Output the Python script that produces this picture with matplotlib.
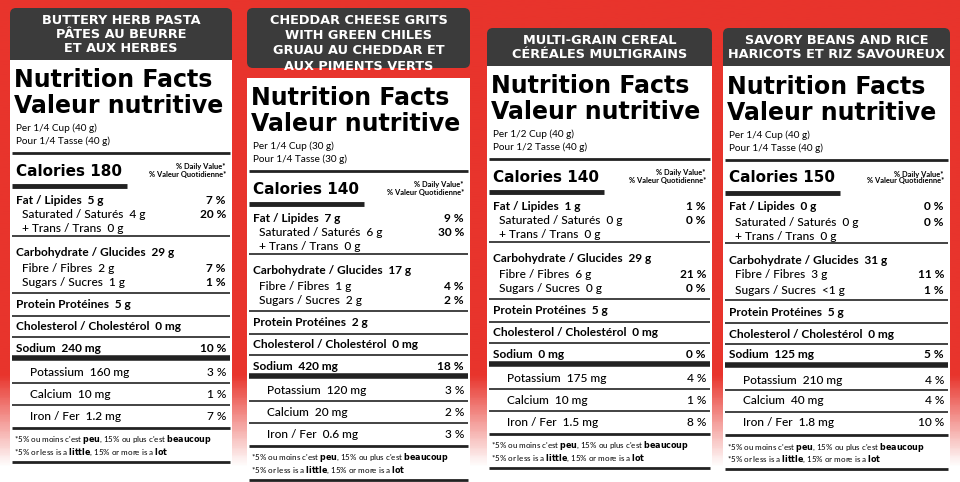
import numpy as np
import matplotlib.pyplot as plt
from matplotlib.patches import FancyBboxPatch, Rectangle
from matplotlib.colors import LinearSegmentedColormap

# product data
titles = [
    ["BUTTERY HERB PASTA", "PÂTES AU BEURRE", "ET AUX HERBES"],
    ["CHEDDAR CHEESE GRITS", "WITH GREEN CHILES", "GRUAU AU CHEDDAR ET", "AUX PIMENTS VERTS"],
    ["MULTI-GRAIN CEREAL", "CÉRÉALES MULTIGRAINS"],
    ["SAVORY BEANS AND RICE", "HARICOTS ET RIZ SAVOUREUX"],
]
serving_en = ["Per 1/4 Cup (40 g)", "Per 1/4 Cup (30 g)", "Per 1/2 Cup (40 g)", "Per 1/4 Cup (40 g)"]
serving_fr = ["Pour 1/4 Tasse (40 g)", "Pour 1/4 Tasse (30 g)", "Pour 1/2 Tasse (40 g)", "Pour 1/4 Tasse (40 g)"]
calories = [180, 140, 140, 150]
fat = ["5 g", "7 g", "1 g", "0 g"]
fat_dv = ["7 %", "9 %", "1 %", "0 %"]
sat = ["4 g", "6 g", "0 g", "0 g"]
sat_dv = ["20 %", "30 %", "0 %", "0 %"]
trans = ["0 g", "0 g", "0 g", "0 g"]
carb = ["29 g", "17 g", "29 g", "31 g"]
fibre = ["2 g", "1 g", "6 g", "3 g"]
fibre_dv = ["7 %", "4 %", "21 %", "11 %"]
sugars = ["1 g", "2 g", "0 g", "<1 g"]
sugars_dv = ["1 %", "2 %", "0 %", "1 %"]
protein = ["5 g", "2 g", "5 g", "5 g"]
cholesterol = ["0 mg", "0 mg", "0 mg", "0 mg"]
sodium = ["240 mg", "420 mg", "0 mg", "125 mg"]
sodium_dv = ["10 %", "18 %", "0 %", "5 %"]
potassium = ["160 mg", "120 mg", "175 mg", "210 mg"]
potassium_dv = ["3 %", "3 %", "4 %", "4 %"]
calcium = ["10 mg", "20 mg", "10 mg", "40 mg"]
calcium_dv = ["1 %", "2 %", "1 %", "4 %"]
iron = ["1.2 mg", "0.6 mg", "1.5 mg", "1.8 mg"]
iron_dv = ["7 %", "3 %", "8 %", "10 %"]

# layout
card_x = [(10, 232), (247, 470), (487, 712), (723, 950)]
head_top = [8, 8, 28, 28]
head_bot = [60, 78, 66, 66]
shift = [0, 18, 6, 7]

W, H = 960, 482
fig = plt.figure(figsize=(9.6, 4.82), dpi=100)
ax = fig.add_axes([0, 0, 1, 1])
ax.set_xlim(0, W)
ax.set_ylim(H, 0)
ax.axis("off")

cmap = LinearSegmentedColormap.from_list("bg", [(0, "#e8342c"), (0.78, "#e8342c"), (0.97, "#ffffff"), (1, "#ffffff")])
ax.imshow(np.linspace(0, 1, 200)[:, None], extent=[0, W, H, 0], cmap=cmap, aspect="auto", zorder=0)

FT = "DejaVu Sans"
FB = "Lato"
dark = "#3b3b3b"

for i in range(4):
    x0, x1 = card_x[i]
    cw = x1 - x0
    d = shift[i]
    ax.add_patch(FancyBboxPatch((x0, head_top[i]), cw, 60, boxstyle="round,pad=0,rounding_size=6",
                                fc=dark, ec="none", zorder=1))
    ax.add_patch(Rectangle((x0, head_bot[i]), cw, H, fc="white", ec="none", zorder=2))
    n = len(titles[i])
    hy = np.linspace(head_top[i] + 12, head_bot[i] - 12, n)
    for t, yy in zip(titles[i], hy):
        ax.text((x0 + x1) / 2, yy, t, color="white", ha="center", va="center",
                fontsize=9.3, fontweight="bold", family=FT, zorder=3)

    L = x0 + 4
    R = x1 - 6
    ax.text(L, 80 + d, "Nutrition Facts", fontsize=17, fontweight="heavy", family=FT, va="center", zorder=3)
    ax.text(L, 106 + d, "Valeur nutritive", fontsize=17, fontweight="heavy", family=FT, va="center", zorder=3)
    ax.text(L + 2, 128 + d, serving_en[i], fontsize=7.2, family=FB, va="center", zorder=3)
    ax.text(L + 2, 141 + d, serving_fr[i], fontsize=7.2, family=FB, va="center", zorder=3)

    def hline(y, lw, x_end=None):
        ax.plot([x0 + 2, x_end if x_end else x1 - 2], [y + d, y + d], color="#222", lw=lw,
                solid_capstyle="butt", zorder=3)

    hline(153, 2)
    ax.text(L + 2, 171 + d, f"Calories {calories[i]}", fontsize=11, fontweight="bold", family=FT, va="center", zorder=3)
    ax.text(R, 167 + d, "% Daily Value*", fontsize=5.4, fontweight="bold", family=FB, ha="right", va="center", zorder=3)
    ax.text(R, 174 + d, "% Valeur Quotidienne*", fontsize=5.4, fontweight="bold", family=FB, ha="right", va="center", zorder=3)
    hline(186, 3.5, x0 + 117)

    rows = [
        (200, f"Fat / Lipides  {fat[i]}", fat_dv[i], 0, True),
        (215, f"Saturated / Saturés  {sat[i]}", sat_dv[i], 6, True),
        (229, f"+ Trans / Trans  {trans[i]}", "", 6, False),
        (253, f"Carbohydrate / Glucides  {carb[i]}", "", 0, False),
        (268, f"Fibre / Fibres  {fibre[i]}", fibre_dv[i], 6, True),
        (283, f"Sugars / Sucres  {sugars[i]}", sugars_dv[i], 6, True),
        (305, f"Protein Protéines  {protein[i]}", "", 0, False),
        (327, f"Cholesterol / Cholestérol  {cholesterol[i]}", "", 0, False),
        (348, f"Sodium  {sodium[i]}", sodium_dv[i], 0, False),
        (373, f"Potassium  {potassium[i]}", potassium_dv[i], 14, False),
        (394, f"Calcium  {calcium[i]}", calcium_dv[i], 14, False),
        (416, f"Iron / Fer  {iron[i]}", iron_dv[i], 14, False),
    ]
    for y, lab, dv, ind, bold_dv in rows:
        heavy = ind == 0
        ax.text(L + 2 + ind, y + d, lab, fontsize=8.6, family=FB, fontweight="bold" if heavy else "medium",
                va="center", zorder=3)
        if dv:
            ax.text(R, y + d, dv, fontsize=8.6, family=FB, fontweight="bold" if (bold_dv or heavy) else "medium",
                    ha="right", va="center", zorder=3)
    for y in (236, 293, 316, 337, 383, 405):
        hline(y, 1.2)
    hline(358, 4)
    hline(428, 2)
    ax.text(L, 440 + d, "*5% ou moins c'est $\\bf{peu}$, 15% ou plus c'est $\\bf{beaucoup}$",
            fontsize=5.8, family=FB, va="center", zorder=3)
    ax.text(L, 452 + d, "*5% or less is a $\\bf{little}$, 15% or more is a $\\bf{lot}$",
            fontsize=5.8, family=FB, va="center", zorder=3)
    hline(462, 2)

fig.savefig("out.png", dpi=100)
